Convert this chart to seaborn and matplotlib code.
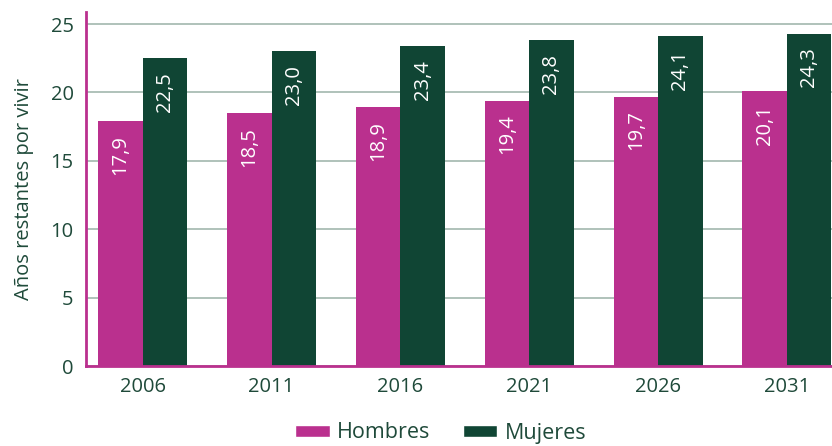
import matplotlib
matplotlib.use("Agg")
import matplotlib.pyplot as plt
import seaborn as sns
import pandas as pd
from matplotlib.patches import Patch

years = ["2006", "2011", "2016", "2021", "2026", "2031"]
hombres = [17.9, 18.5, 18.9, 19.4, 19.7, 20.1]
mujeres = [22.5, 23.0, 23.4, 23.8, 24.1, 24.3]
series = ["Hombres", "Mujeres"]
colors = {"Hombres": "#BA308E", "Mujeres": "#104534"}
text_color = "#1F4A3A"
grid_color = "#A9BDB4"

df = pd.DataFrame({
    "year": years * 2,
    "value": hombres + mujeres,
    "sexo": ["Hombres"] * len(years) + ["Mujeres"] * len(years),
})

sns.set_theme(style="white")
plt.rcParams["font.family"] = ["Open Sans", "DejaVu Sans"]

fig = plt.figure(figsize=(8.32, 4.46), dpi=100)
ax = fig.add_axes([86 / 832, 80 / 446, 1 - 86 / 832, (366 - 12) / 446])

sns.barplot(data=df, x="year", y="value", hue="sexo", order=years,
            hue_order=series, palette=colors, width=0.69, saturation=1,
            ax=ax, legend=False, zorder=3, linewidth=0, edgecolor="none")

for cont, vals in zip(ax.containers, [hombres, mujeres]):
    for p, v in zip(cont.patches, vals):
        ax.annotate(f"{v:.1f}".replace(".", ","),
                    xy=(p.get_x() + p.get_width() / 2, p.get_height()),
                    xytext=(0, -10), textcoords="offset points",
                    rotation=90, ha="center", va="top",
                    color="white", fontsize=14.5, zorder=4)

ax.set_xlim(-0.44, 5.35)
ax.set_ylim(0, 25.88)
ax.set_yticks([0, 5, 10, 15, 20, 25])
ax.yaxis.grid(True, color=grid_color, linewidth=1.3, zorder=0)
ax.set_axisbelow(True)
for s in ["top", "right"]:
    ax.spines[s].set_visible(False)
for s in ["left", "bottom"]:
    ax.spines[s].set_color("#BA308E")
    ax.spines[s].set_linewidth(2)
    ax.spines[s].set_zorder(5)

ax.tick_params(axis="both", length=0, labelsize=14.5, colors=text_color)
ax.tick_params(axis="y", pad=9)
ax.tick_params(axis="x", pad=8)
ax.set_xlabel("")
ax.set_ylabel("Años restantes por vivir", fontsize=14.5, color=text_color, labelpad=12)

handles = [Patch(facecolor=colors[s], label=s) for s in series]
fig.legend(handles=handles, loc="center", bbox_to_anchor=(441 / 832, 1 - 433 / 446),
           ncol=2, frameon=False, fontsize=15.5, handlelength=1.6, handleheight=0.45,
           columnspacing=1.5, handletextpad=0.35, labelcolor=text_color)

fig.savefig("out.png", dpi=100)
